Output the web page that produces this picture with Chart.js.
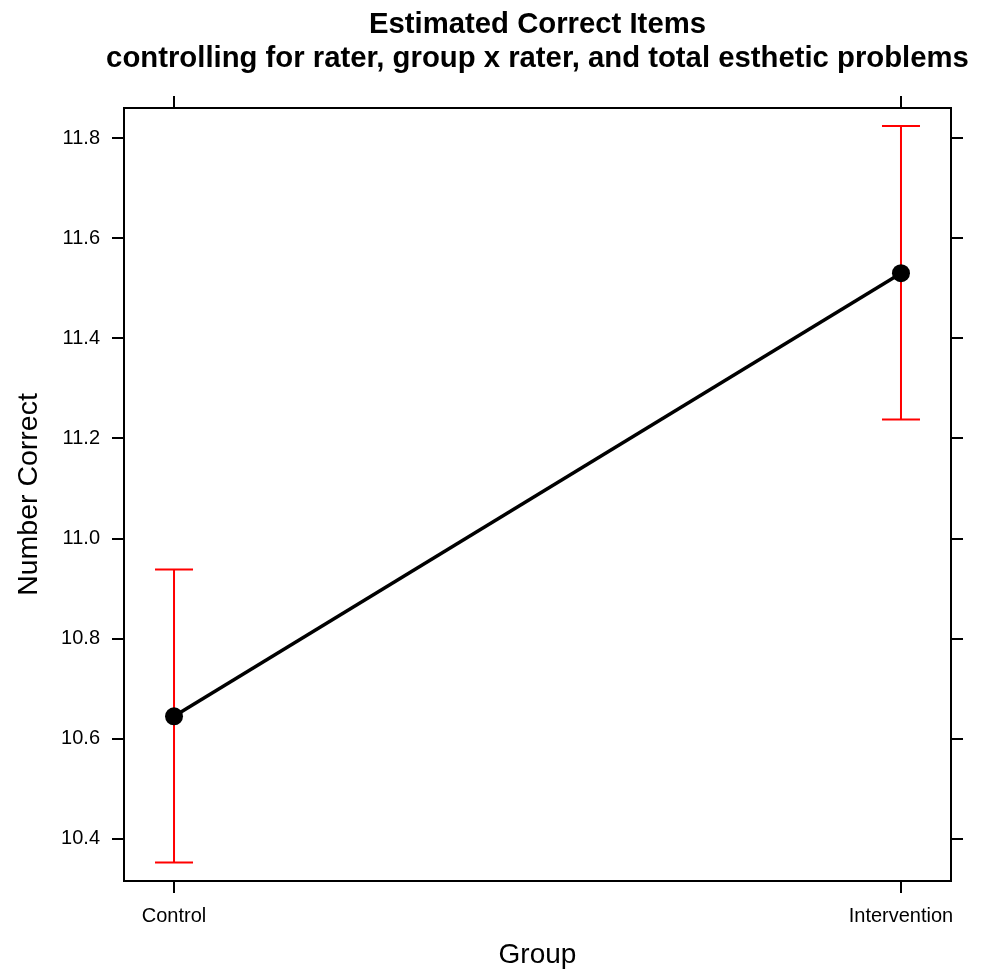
<!DOCTYPE html>
<html>
<head>
<meta charset="utf-8">
<script src="https://cdn.jsdelivr.net/npm/chart.js@4.4.1/dist/chart.umd.min.js"></script>
<style>
  html, body { margin: 0; padding: 0; background: #fff; }
</style>
</head>
<body>
<canvas id="chartEstimated" width="991" height="971"></canvas>
<script>
// Data
const groups = ['Control', 'Intervention'];
const groupPos = [1, 2];
const estimate = [10.645, 11.53];
const lower = [10.353, 11.238];
const upper = [10.938, 11.824];
const yTicks = [10.4, 10.6, 10.8, 11.0, 11.2, 11.4, 11.6, 11.8];
const titleLines = ['Estimated Correct Items', 'controlling for rater, group x rater, and total esthetic problems'];
const xTitle = 'Group';
const yTitle = 'Number Correct';

const black = '#000000';
const red = '#ff0000';
const fam = '"Liberation Sans", Arial, Helvetica, sans-serif';

// fixed box sizes so the plot frame lands where the reference has it
function fixHeight(h) { return function (scale) { scale.height = h; }; }
function fixWidth(w) { return function (scale) { scale.width = w; }; }

const xTicksFrom = function (scale) { scale.ticks = groupPos.map(v => ({ value: v })); };
const yTicksFrom = function (scale) { scale.ticks = yTicks.map(v => ({ value: v })); };

const axisCommon = {
  grid: { display: true, drawOnChartArea: false, drawTicks: true, tickLength: 12, color: black, lineWidth: 2 },
  border: { display: true, color: black, width: 2 },
};

// title is wider than the panel but centred over it: recentre the title box after layout
const centreTitle = {
  id: 'centreTitle',
  afterLayout(chart) {
    const t = chart.titleBlock;
    if (!t) return;
    const mid = (chart.chartArea.left + chart.chartArea.right) / 2;
    const half = Math.min(mid, chart.width - mid);
    t.left = mid - half;
    t.right = mid + half;
    t.width = half * 2;
  },
};

new Chart(document.getElementById('chartEstimated'), {
  type: 'scatter',
  data: {
    datasets: [
      {
        // estimates joined by a line
        data: groupPos.map((x, i) => ({ x: x, y: estimate[i] })),
        showLine: true,
        borderColor: black,
        borderWidth: 3.5,
        pointRadius: 9,
        pointBackgroundColor: black,
        pointBorderColor: black,
        pointBorderWidth: 0,
      },
      // vertical error bars, one per group
      ...groupPos.map((x, i) => ({
        data: [{ x: x, y: lower[i] }, { x: x, y: upper[i] }],
        showLine: true,
        borderColor: red,
        borderWidth: 2,
        pointRadius: 0,
      })),
      {
        // caps
        data: groupPos.flatMap((x, i) => [{ x: x, y: lower[i] }, { x: x, y: upper[i] }]),
        showLine: false,
        pointStyle: 'line',
        pointRadius: 19,
        pointBorderColor: red,
        pointBorderWidth: 2,
      },
    ],
  },
  options: {
    responsive: false,
    animation: false,
    events: [],
    layout: { padding: 0 },
    plugins: {
      legend: { display: false },
      tooltip: { enabled: false },
      title: {
        display: true,
        text: titleLines,
        fullSize: true,
        color: black,
        font: { family: fam, size: 29.3, weight: 'bold', lineHeight: 1.16 },
        padding: { top: 8, bottom: 2 },
      },
    },
    scales: {
      x: {
        type: 'linear',
        position: 'bottom',
        min: 0.9312,
        max: 2.0688,
        afterBuildTicks: xTicksFrom,
        afterFit: fixHeight(90),
        ticks: {
          color: black,
          font: { family: fam, size: 20 },
          padding: 11,
          maxRotation: 0,
          callback: (v) => groups[groupPos.indexOf(v)],
        },
        title: { display: true, text: xTitle, color: black, font: { family: fam, size: 28 }, padding: { top: 2, bottom: -1 } },
        ...axisCommon,
      },
      x2: {
        type: 'linear',
        position: 'top',
        min: 0.9312,
        max: 2.0688,
        afterBuildTicks: xTicksFrom,
        afterFit: fixHeight(30),
        ticks: { display: false },
        ...axisCommon,
      },
      y: {
        type: 'linear',
        position: 'left',
        min: 10.316,
        max: 11.86,
        afterBuildTicks: yTicksFrom,
        afterFit: fixWidth(124),
        ticks: {
          color: black,
          font: { family: fam, size: 20 },
          padding: 12,
          callback: (v) => Number(v).toFixed(1),
        },
        title: { display: true, text: yTitle, color: black, font: { family: fam, size: 28.5 }, padding: { top: 12, bottom: 4 } },
        ...axisCommon,
      },
      y2: {
        type: 'linear',
        position: 'right',
        min: 10.316,
        max: 11.86,
        afterBuildTicks: yTicksFrom,
        afterFit: fixWidth(40),
        ticks: { display: false },
        ...axisCommon,
      },
    },
  },
  plugins: [centreTitle],
});
</script>
</body>
</html>
